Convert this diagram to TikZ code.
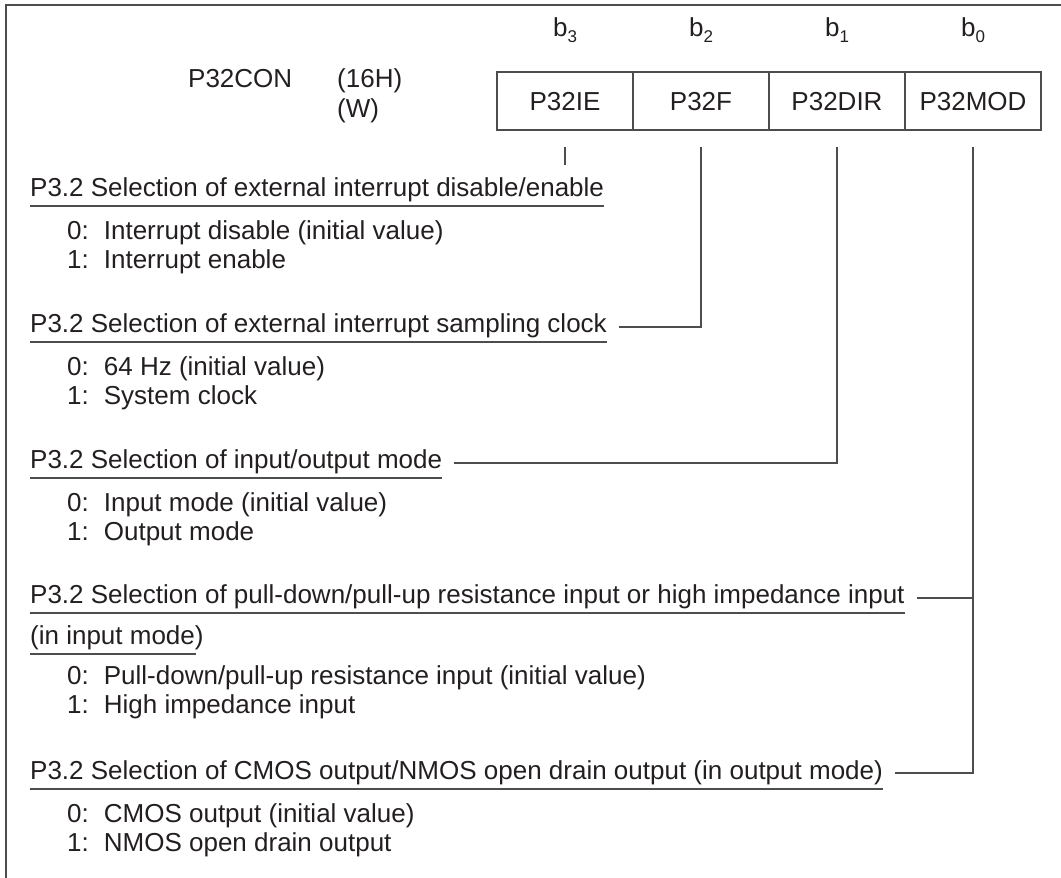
\documentclass[tikz,border=0pt]{standalone}
\usepackage{fontspec}
\setmainfont{Liberation Sans}
\usetikzlibrary{positioning}
\definecolor{ink}{HTML}{231F20}
\definecolor{rulegray}{HTML}{4D4D4D}
\newcommand{\bitno}[1]{b\raisebox{-6pt}{\fontsize{17}{17}\selectfont #1}}
\newcommand{\bitval}[2]{#1:\hspace{15pt}#2}

\begin{document}
\begin{tikzpicture}[x=1pt, y=-1pt,
  every node/.style={font=\fontsize{26}{30}\selectfont, text=ink},
  wire/.style={draw=rulegray, line width=1.8pt},
  cell/.style={draw=rulegray, line width=1.8pt, minimum width=136pt, minimum height=58pt,
    inner sep=0pt, outer sep=0pt, text height=18.6pt, text depth=0pt},
  txt/.style={anchor=base west, inner sep=0pt},
  head/.style={anchor=base west, inner xsep=0pt, inner ysep=10pt, text height=18.6pt, text depth=0pt}]
\useasboundingbox (0,0) rectangle (1061,878);
% frame
\draw[wire] (6,878) -- (6,5) -- (1061,5);
% register name
\node[txt] (regname) at (188,87) {P32CON};
\node[txt] (regaddr) at (337,87) {(16H)};
\node[txt] (regrw) at (337,117) {(W)};
% register bits
\node[cell] (ie) at (565,101) {P32IE};
\node[cell, right=0pt of ie] (f) {P32F};
\node[cell, right=0pt of f] (dir) {P32DIR};
\node[cell, right=0pt of dir] (mod) {P32MOD};
\node[anchor=base, inner sep=0pt] (b3) at ([yshift=36pt]ie.north) {\bitno{3}};
\node[anchor=base, inner sep=0pt] (b2) at ([yshift=36pt]f.north) {\bitno{2}};
\node[anchor=base, inner sep=0pt] (b1) at ([yshift=36pt]dir.north) {\bitno{1}};
\node[anchor=base, inner sep=0pt] (b0) at ([yshift=36pt]mod.north) {\bitno{0}};
\coordinate (ie-t) at ([yshift=-17pt]ie.south);
\coordinate (f-t) at ([yshift=-17pt]f.south);
\coordinate (dir-t) at ([yshift=-17pt]dir.south);
\coordinate (mod-t) at ([yshift=-17pt]mod.south);
% P32IE
\node[head] (h1) at (30,196) {P3.2 Selection of external interrupt disable/enable};
\draw[wire] (h1.south west) -- (h1.south east);
\draw[wire] (ie-t) -- ++(0,18);
\node[txt] (h1a) at (67,239) {\bitval{0}{Interrupt disable (initial value)}};
\node[txt] (h1b) at (67,268) {\bitval{1}{Interrupt enable}};
% P32F
\node[head] (h2) at (30,332) {P3.2 Selection of external interrupt sampling clock};
\draw[wire] (h2.south west) -- (h2.south east);
\draw[wire] ([xshift=12pt,yshift=5pt]h2.base east) -| (f-t);
\node[txt] (h2a) at (67,375) {\bitval{0}{64 Hz (initial value)}};
\node[txt] (h2b) at (67,404) {\bitval{1}{System clock}};
% P32DIR
\node[head] (h3) at (30,468) {P3.2 Selection of input/output mode};
\draw[wire] (h3.south west) -- (h3.south east);
\draw[wire] ([xshift=12pt,yshift=5pt]h3.base east) -| (dir-t);
\node[txt] (h3a) at (67,511) {\bitval{0}{Input mode (initial value)}};
\node[txt] (h3b) at (67,540) {\bitval{1}{Output mode}};
% P32MOD
\node[head] (h4) at (30,603) {P3.2 Selection of pull-down/pull-up resistance input or high impedance input};
\draw[wire] (h4.south west) -- (h4.south east);
\node[head] (h4x) at (30,644) {(in input mode)};
\draw[wire] (h4x.south west) -- ([xshift=-8pt]h4x.south east);
\draw[wire] ([xshift=12pt,yshift=5pt]h4.base east) -| (mod-t);
\node[txt] (h4a) at (67,684) {\bitval{0}{Pull-down/pull-up resistance input (initial value)}};
\node[txt] (h4b) at (67,713) {\bitval{1}{High impedance input}};
\node[head] (h5) at (30,779) {P3.2 Selection of CMOS output/NMOS open drain output (in output mode)};
\draw[wire] (h5.south west) -- (h5.south east);
\draw[wire] ([xshift=12pt,yshift=6pt]h5.base east) -| (mod-t);
\node[txt] (h5a) at (67,822) {\bitval{0}{CMOS output (initial value)}};
\node[txt] (h5b) at (67,851) {\bitval{1}{NMOS open drain output}};
\end{tikzpicture}
\end{document}
